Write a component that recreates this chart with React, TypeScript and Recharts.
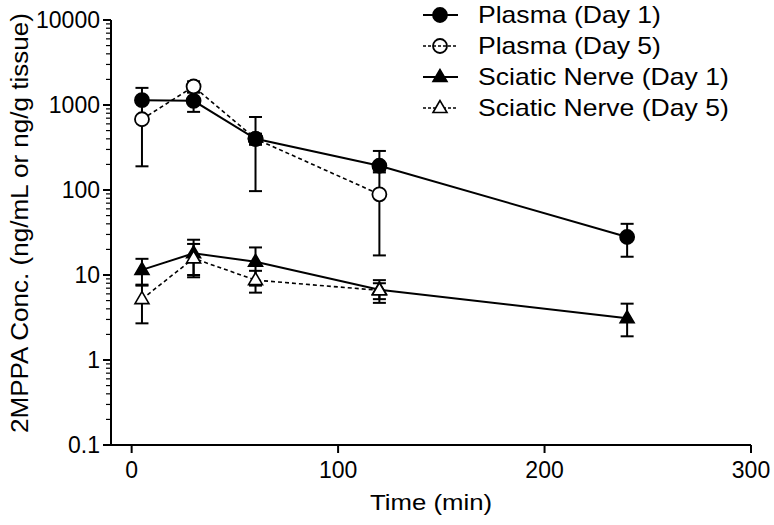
import React from 'react';
import { ComposedChart, ErrorBar, Line, XAxis, YAxis } from 'recharts';

// sampling times (min)
const times = [5, 30, 60, 120, 240];

// plasma, ng/mL (mean, lower and upper end of the error bar)
const plasmaDay1 = [1140, 1120, 400, 193, 28];
const plasmaDay1Low = [690, 830, 340, 169, 16.4];
const plasmaDay1High = [1590, 1410, 460, 288, 40];
const plasmaDay5 = [680, 1650, 400, 89];
const plasmaDay5Low = [190, 1400, 97, 17];
const plasmaDay5High = [1170, 1900, 723, 161];

// sciatic nerve, ng/g tissue
const nerveDay1 = [11.5, 18, 14.3, 6.7, 3.1];
const nerveDay1Low = [7.5, 10, 7.5, 4.7, 1.9];
const nerveDay1High = [15.5, 26, 21.1, 8.7, 4.6];
const nerveDay5 = [5.2, 15.7, 8.7, 6.6];
const nerveDay5Low = [2.7, 9.4, 6.2, 5.2];
const nerveDay5High = [7.7, 23.2, 11.2, 8.0];

const xTicks = [0, 100, 200, 300];
const yTicks = [0.1, 1, 10, 100, 1000, 10000];
const yTickLabels = ['0.1', '1', '10', '100', '1000', '10000'];
const minorSteps = [2, 3, 4, 5, 6, 7, 8, 9];
const yMinor = yTicks
  .slice(0, -1)
  .flatMap((d) => minorSteps.map((m) => Number((d * m).toPrecision(3))));

const FONT = '"Liberation Sans", Arial, sans-serif';

type Row = { t: number; v: number; err: [number, number] };

const toRows = (vals: number[], lows: number[], highs: number[]): Row[] =>
  vals.map((v, i) => ({ t: times[i], v, err: [v - lows[i], highs[i] - v] }));

interface SeriesDef {
  name: string;
  rows: Row[];
  shape: 'circle' | 'triangle';
  filled: boolean;
  dashed: boolean;
}

// drawing order: later ones on top
const series: SeriesDef[] = [
  { name: 'Plasma (Day 5)', rows: toRows(plasmaDay5, plasmaDay5Low, plasmaDay5High), shape: 'circle', filled: false, dashed: true },
  { name: 'Plasma (Day 1)', rows: toRows(plasmaDay1, plasmaDay1Low, plasmaDay1High), shape: 'circle', filled: true, dashed: false },
  { name: 'Sciatic Nerve (Day 1)', rows: toRows(nerveDay1, nerveDay1Low, nerveDay1High), shape: 'triangle', filled: true, dashed: false },
  { name: 'Sciatic Nerve (Day 5)', rows: toRows(nerveDay5, nerveDay5Low, nerveDay5High), shape: 'triangle', filled: false, dashed: true },
];

const legendOrder = ['Plasma (Day 1)', 'Plasma (Day 5)', 'Sciatic Nerve (Day 1)', 'Sciatic Nerve (Day 5)'];

const Marker = ({ cx, cy, shape, filled, hollow }: { cx: number; cy: number; shape: string; filled: boolean; hollow?: boolean }) => {
  const fill = filled ? '#000' : hollow ? 'none' : '#fff';
  if (shape === 'circle') {
    return <circle cx={cx} cy={cy} r={7} fill={fill} stroke="#000" strokeWidth={1.8} />;
  }
  const pts = `${cx},${cy - 7.5} ${cx - 7},${cy + 4.5} ${cx + 7},${cy + 4.5}`;
  return <polygon points={pts} fill={fill} stroke="#000" strokeWidth={1.6} strokeLinejoin="miter" />;
};

const YTick = (props: any) => {
  const { x, y, payload } = props;
  const i = yTicks.indexOf(payload.value);
  const major = i >= 0;
  return (
    <g>
      <line x1={x - (major ? 8 : 5)} x2={x} y1={y} y2={y} stroke="#000" strokeWidth={major ? 2 : 1.2} />
      {major && (
        <text x={x - 11} y={y} dy="0.36em" textAnchor="end" fontSize={23} fontFamily={FONT} fill="#000">
          {yTickLabels[i]}
        </text>
      )}
    </g>
  );
};

export default function App() {
  return (
    <div style={{ position: 'absolute', left: 0, top: 0, width: 774, height: 525, background: '#fff' }}>
      <ComposedChart width={774} height={525} margin={{ top: 20, right: 23, bottom: 0, left: 0 }}>
        <XAxis
          type="number"
          dataKey="t"
          domain={[-10, 300]}
          ticks={xTicks}
          allowDataOverflow
          height={80}
          tickSize={8}
          tickMargin={9}
          axisLine={{ stroke: '#000', strokeWidth: 2 }}
          tickLine={{ stroke: '#000', strokeWidth: 2 }}
          tick={{ fontSize: 23, fill: '#000', fontFamily: FONT }}
        />
        <YAxis
          type="number"
          scale="log"
          domain={[0.1, 10000]}
          allowDataOverflow
          ticks={[...yTicks, ...yMinor]}
          interval={0}
          width={111}
          tickSize={0}
          tickMargin={0}
          tickLine={false}
          axisLine={{ stroke: '#000', strokeWidth: 2 }}
          tick={<YTick />}
        />
        {series.map((s) => (
          <Line
            key={s.name}
            data={s.rows}
            dataKey="v"
            name={s.name}
            type="linear"
            stroke="#000"
            strokeWidth={s.dashed ? 1.6 : 2}
            strokeDasharray={s.dashed ? '4 3' : undefined}
            activeDot={false}
            isAnimationActive={false}
            dot={(p: any) => (
              <Marker key={`${s.name}-${p.index}`} cx={p.cx} cy={p.cy} shape={s.shape} filled={s.filled} />
            )}
          >
            <ErrorBar dataKey="err" direction="y" width={6.5} stroke="#000" strokeWidth={2} isAnimationActive={false} />
          </Line>
        ))}
      </ComposedChart>

      {/* legend and axis titles */}
      <svg width={774} height={525} style={{ position: 'absolute', left: 0, top: 0, pointerEvents: 'none' }}>
        {legendOrder.map((name, i) => {
          const s = series.find((d) => d.name === name)!;
          const cy = 15 + i * 31;
          return (
            <g key={name}>
              <line
                x1={423}
                x2={458}
                y1={cy}
                y2={cy}
                stroke="#000"
                strokeWidth={s.dashed ? 1.3 : 1.8}
                strokeDasharray={s.dashed ? '3 2' : undefined}
              />
              <Marker cx={440} cy={cy} shape={s.shape} filled={s.filled} hollow={s.shape === 'circle'} />
              <text
                transform={`translate(478,${cy}) scale(1.155,1)`}
                dy="0.36em"
                fontSize={23}
                fontFamily={FONT}
                fill="#000"
              >
                {name}
              </text>
            </g>
          );
        })}
        <text
          transform="translate(28,223) rotate(-90)"
          textAnchor="middle"
          fontSize={23}
          fontFamily={FONT}
          fill="#000"
          textLength={420}
          lengthAdjust="spacingAndGlyphs"
        >
          2MPPA Conc.  (ng/mL or ng/g tissue)
        </text>
        <text
          transform="translate(431,510) scale(1.12,1)"
          textAnchor="middle"
          fontSize={23}
          fontFamily={FONT}
          fill="#000"
        >
          Time (min)
        </text>
      </svg>
    </div>
  );
}
